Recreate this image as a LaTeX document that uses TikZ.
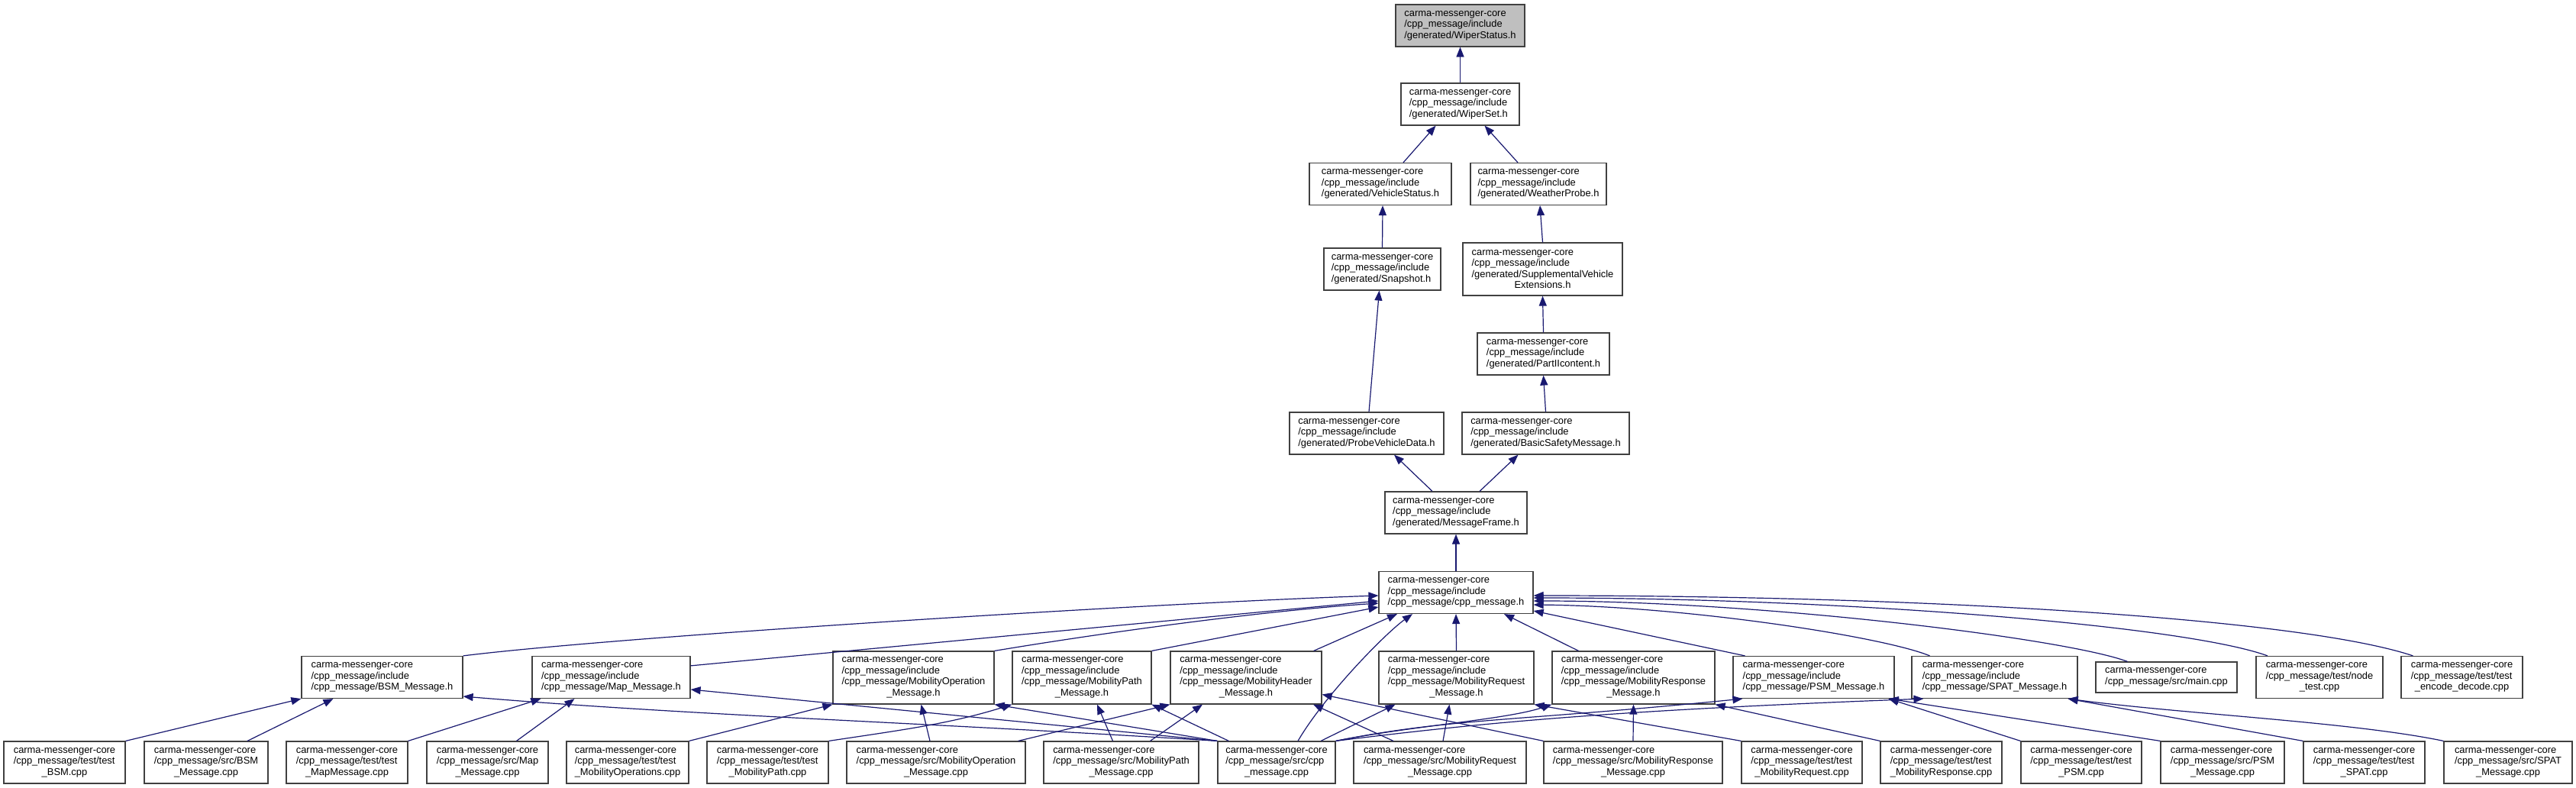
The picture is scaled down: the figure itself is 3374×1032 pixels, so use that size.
\documentclass[tikz,border=0pt]{standalone}
\usepackage{fontspec}
\setmainfont{Liberation Sans}
\usepackage{tikz}
\usetikzlibrary{arrows.meta}

\definecolor{edgeblue}{HTML}{191970}
\definecolor{boxline}{HTML}{404040}
\definecolor{focusgray}{HTML}{BFBFBF}

\begin{document}
\begin{tikzpicture}[
  x=1pt, y=-1pt,
  font=\fontsize{12.9}{14.5}\selectfont,
  incfile/.style={draw=boxline, line width=1.2pt, fill=white, align=left, inner sep=0pt, minimum height=55pt},
  incfour/.style={incfile, minimum height=69pt},
  inctwo/.style={incfile, minimum height=40pt},
  focusfile/.style={incfile, fill=focusgray},
  incl/.style={draw=edgeblue, line width=1.2pt, -{Triangle[length=13pt, width=10pt]}}
]
\path[use as bounding box, fill=white] (0,0) rectangle (3374,1032);

% generated headers
\node[focusfile, minimum width=169pt] (wstatus) at (1912.5,33.5) {carma-messenger-core\\/cpp\_message/include\\/generated/WiperStatus.h};
\node[incfile, minimum width=155pt] (wset) at (1912.5,136.5) {carma-messenger-core\\/cpp\_message/include\\/generated/WiperSet.h};
\node[incfile, minimum width=186pt] (vstatus) at (1808,241) {carma-messenger-core\\/cpp\_message/include\\/generated/VehicleStatus.h};
\node[incfile, minimum width=178pt] (wprobe) at (2015,241) {carma-messenger-core\\/cpp\_message/include\\/generated/WeatherProbe.h};
\node[incfile, minimum width=153pt] (snapshot) at (1810.5,352.5) {carma-messenger-core\\/cpp\_message/include\\/generated/Snapshot.h};
\node[incfour, minimum width=209pt] (suppl) at (2020.5,352.5) {carma-messenger-core\\/cpp\_message/include\\/generated/SupplementalVehicle\\\hfil Extensions.h};
\node[incfile, minimum width=173pt] (partii) at (2021.5,463.5) {carma-messenger-core\\/cpp\_message/include\\/generated/PartIIcontent.h};
\node[incfile, minimum width=202pt] (probe) at (1790,567.5) {carma-messenger-core\\/cpp\_message/include\\/generated/ProbeVehicleData.h};
\node[incfile, minimum width=219pt] (bsm) at (2024.5,567.5) {carma-messenger-core\\/cpp\_message/include\\/generated/BasicSafetyMessage.h};
\node[incfile, minimum width=186pt] (mframe) at (1907,671.5) {carma-messenger-core\\/cpp\_message/include\\/generated/MessageFrame.h};
\node[incfile, minimum width=202pt] (cppmsg) at (1907,776) {carma-messenger-core\\/cpp\_message/include\\/cpp\_message/cpp\_message.h};

% message headers and direct includers
\node[incfile, minimum width=211pt] (bsmh) at (500.5,887) {carma-messenger-core\\/cpp\_message/include\\/cpp\_message/BSM\_Message.h};
\node[incfile, minimum width=207pt] (maph) at (800.5,887) {carma-messenger-core\\/cpp\_message/include\\/cpp\_message/Map\_Message.h};
\node[incfour, minimum width=211pt] (mobop) at (1196.5,887.5) {carma-messenger-core\\/cpp\_message/include\\/cpp\_message/MobilityOperation\\\hfil\_Message.h};
\node[incfour, minimum width=182pt] (mobpath) at (1417,887.5) {carma-messenger-core\\/cpp\_message/include\\/cpp\_message/MobilityPath\\\hfil\_Message.h};
\node[incfour, minimum width=198pt] (mobhdr) at (1632,887.5) {carma-messenger-core\\/cpp\_message/include\\/cpp\_message/MobilityHeader\\\hfil\_Message.h};
\node[incfour, minimum width=203pt] (mobreq) at (1907.5,887.5) {carma-messenger-core\\/cpp\_message/include\\/cpp\_message/MobilityRequest\\\hfil\_Message.h};
\node[incfour, minimum width=213pt] (mobresp) at (2139.5,887.5) {carma-messenger-core\\/cpp\_message/include\\/cpp\_message/MobilityResponse\\\hfil\_Message.h};
\node[incfile, minimum width=211pt] (psmh) at (2375.5,887) {carma-messenger-core\\/cpp\_message/include\\/cpp\_message/PSM\_Message.h};
\node[incfile, minimum width=217pt] (spath) at (2612.5,887) {carma-messenger-core\\/cpp\_message/include\\/cpp\_message/SPAT\_Message.h};
\node[inctwo, minimum width=185pt] (maincpp) at (2837.5,887) {carma-messenger-core\\/cpp\_message/src/main.cpp};
\node[incfile, minimum width=166pt] (nodetest) at (3038,887) {carma-messenger-core\\/cpp\_message/test/node\\\hfil\_test.cpp};
\node[incfile, minimum width=159pt] (encdec) at (3224.5,887) {carma-messenger-core\\/cpp\_message/test/test\\\hfil\_encode\_decode.cpp};

% sources and tests
\node[incfile, minimum width=159pt] (tbsm) at (84.5,998.5) {carma-messenger-core\\/cpp\_message/test/test\\\hfil\_BSM.cpp};
\node[incfile, minimum width=162pt] (sbsm) at (270,998.5) {carma-messenger-core\\/cpp\_message/src/BSM\\\hfil\_Message.cpp};
\node[incfile, minimum width=159pt] (tmap) at (454.5,998.5) {carma-messenger-core\\/cpp\_message/test/test\\\hfil\_MapMessage.cpp};
\node[incfile, minimum width=159pt] (smap) at (638.5,998.5) {carma-messenger-core\\/cpp\_message/src/Map\\\hfil\_Message.cpp};
\node[incfile, minimum width=160pt] (tmobop) at (822,998.5) {carma-messenger-core\\/cpp\_message/test/test\\\hfil\_MobilityOperations.cpp};
\node[incfile, minimum width=159pt] (tmobpath) at (1005.5,998.5) {carma-messenger-core\\/cpp\_message/test/test\\\hfil\_MobilityPath.cpp};
\node[incfile, minimum width=234pt] (smobop) at (1226,998.5) {carma-messenger-core\\/cpp\_message/src/MobilityOperation\\\hfil\_Message.cpp};
\node[incfile, minimum width=203pt] (smobpath) at (1468.5,998.5) {carma-messenger-core\\/cpp\_message/src/MobilityPath\\\hfil\_Message.cpp};
\node[incfile, minimum width=154pt] (scpp) at (1672,998.5) {carma-messenger-core\\/cpp\_message/src/cpp\\\hfil\_message.cpp};
\node[incfile, minimum width=226pt] (smobreq) at (1886,998.5) {carma-messenger-core\\/cpp\_message/src/MobilityRequest\\\hfil\_Message.cpp};
\node[incfile, minimum width=234pt] (smobresp) at (2139,998.5) {carma-messenger-core\\/cpp\_message/src/MobilityResponse\\\hfil\_Message.cpp};
\node[incfile, minimum width=158pt] (tmobreq) at (2360,998.5) {carma-messenger-core\\/cpp\_message/test/test\\\hfil\_MobilityRequest.cpp};
\node[incfile, minimum width=159pt] (tmobresp) at (2542.5,998.5) {carma-messenger-core\\/cpp\_message/test/test\\\hfil\_MobilityResponse.cpp};
\node[incfile, minimum width=158pt] (tpsm) at (2726,998.5) {carma-messenger-core\\/cpp\_message/test/test\\\hfil\_PSM.cpp};
\node[incfile, minimum width=162pt] (spsm) at (2911,998.5) {carma-messenger-core\\/cpp\_message/src/PSM\\\hfil\_Message.cpp};
\node[incfile, minimum width=159pt] (tspat) at (3096.5,998.5) {carma-messenger-core\\/cpp\_message/test/test\\\hfil\_SPAT.cpp};
\node[incfile, minimum width=168pt] (sspat) at (3285,998.5) {carma-messenger-core\\/cpp\_message/src/SPAT\\\hfil\_Message.cpp};

% include chain
\draw[incl] (wset.north) -- (wstatus.south);
\draw[incl] ([xshift=30pt]vstatus.north) -- ([xshift=-32pt]wset.south);
\draw[incl] ([xshift=-27pt]wprobe.north) -- ([xshift=32pt]wset.south);
\draw[incl] (snapshot.north) -- ([xshift=3pt]vstatus.south);
\draw[incl] (suppl.north) -- ([xshift=2pt]wprobe.south);
\draw[incl] ([xshift=3pt]probe.north) -- ([xshift=-4pt]snapshot.south);
\draw[incl] (partii.north) -- (suppl.south);
\draw[incl] (bsm.north) -- (partii.south);
\draw[incl] ([xshift=-31pt]mframe.north) -- ([xshift=36pt]probe.south);
\draw[incl] ([xshift=31pt]mframe.north) -- ([xshift=-36pt]bsm.south);
\draw[incl] (cppmsg.north) -- (mframe.south);

% into cpp_message.h
\draw[incl] (bsmh.north east) .. controls +(200,-25) and +(-300,10) .. ([yshift=-4pt]cppmsg.west);
\draw[incl] ([yshift=-13pt]maph.north east) -- ([yshift=-11pt]cppmsg.west);
\draw[incl] (mobop.north east) .. controls +(150,-25) and +(-150,10) .. ([yshift=-14pt]cppmsg.west);
\draw[incl] (mobpath.north east) -- ([yshift=-19pt]cppmsg.west);
\draw[incl] ([xshift=-11pt]mobhdr.north east) -- ([xshift=-77pt]cppmsg.south);
\draw[incl] ([xshift=28pt]scpp.north) .. controls +(35,-60) and +(-35,25) .. ([xshift=-57pt]cppmsg.south);
\draw[incl] (mobreq.north) -- (cppmsg.south);
\draw[incl] ([xshift=-72pt]mobresp.north) -- ([xshift=63pt]cppmsg.south);
\draw[incl] ([xshift=-90pt]psmh.north) -- ([yshift=-24pt]cppmsg.east);
\draw[incl] ([xshift=-85pt]spath.north) .. controls +(-60,-25) and +(200,2) .. ([yshift=-16pt]cppmsg.east);
\draw[incl] ([xshift=-51pt]maincpp.north) .. controls +(-80,-30) and +(300,0) .. ([yshift=-11pt]cppmsg.east);
\draw[incl] ([xshift=-68pt]nodetest.north) .. controls +(-110,-40) and +(400,0) .. ([yshift=-7pt]cppmsg.east);
\draw[incl] ([xshift=-64pt]encdec.north) .. controls +(-150,-50) and +(500,0) .. ([yshift=-4pt]cppmsg.east);

% into the message headers
\draw[incl] (tbsm.north east) -- (bsmh.south west);
\draw[incl] ([xshift=54pt]sbsm.north) -- ([xshift=-64pt]bsmh.south);
\draw[incl] (scpp.north west) .. controls +(-400,-25) and +(300,25) .. ([yshift=-25pt]bsmh.east);
\draw[incl] (scpp.north west) -- ([yshift=-16pt]maph.east);
\draw[incl] (tmap.north east) -- ([xshift=12pt]maph.south west);
\draw[incl] ([xshift=38pt]smap.north) -- ([xshift=-48pt]maph.south);
\draw[incl] (tmobop.north east) -- (mobop.south west);
\draw[incl] ([xshift=-8pt]smobop.north) -- ([xshift=10pt]mobop.south);
\draw[incl] (scpp.north west) -- (mobop.south east);
\draw[incl] (tmobpath.north east) .. controls +(100,-15) and +(-80,25) .. (mobpath.south west);
\draw[incl] ([xshift=-11pt]smobpath.north) -- ([xshift=20pt]mobpath.south);
\draw[incl] ([xshift=15pt]scpp.north west) -- (mobpath.south east);
\draw[incl] ([xshift=-10pt]smobop.north east) -- (mobhdr.south west);
\draw[incl] ([xshift=38pt]smobpath.north) -- ([xshift=-57pt]mobhdr.south);
\draw[incl] ([xshift=-61pt]smobreq.north) -- ([xshift=88pt]mobhdr.south);
\draw[incl] (smobresp.north west) -- ([yshift=-22pt]mobhdr.east);
\draw[incl] ([xshift=58pt]scpp.north) -- ([xshift=-80pt]mobreq.south);
\draw[incl] ([xshift=4pt]smobreq.north) -- ([xshift=-9pt]mobreq.south);
\draw[incl] (tmobreq.north west) -- (mobreq.south east);
\draw[incl] (scpp.north east) .. controls +(100,-20) and +(-60,20) .. (mobresp.south west);
\draw[incl] (smobresp.north) -- (mobresp.south);
\draw[incl] (tmobresp.north west) -- (mobresp.south east);
\draw[incl] (scpp.north east) .. controls +(150,-30) and +(-300,30) .. ([xshift=13pt]psmh.south west);
\draw[incl] (scpp.north east) .. controls +(200,-25) and +(-400,15) .. ([xshift=16pt]spath.south west);
\draw[incl] (tpsm.north west) -- ([xshift=-8pt]psmh.south east);
\draw[incl] (spsm.north west) -- ([xshift=-8pt]psmh.south east);
\draw[incl] (tspat.north west) -- ([xshift=-13pt]spath.south east);
\draw[incl] (sspat.north west) .. controls +(-120,-25) and +(150,20) .. ([xshift=-13pt]spath.south east);
\end{tikzpicture}
\end{document}
